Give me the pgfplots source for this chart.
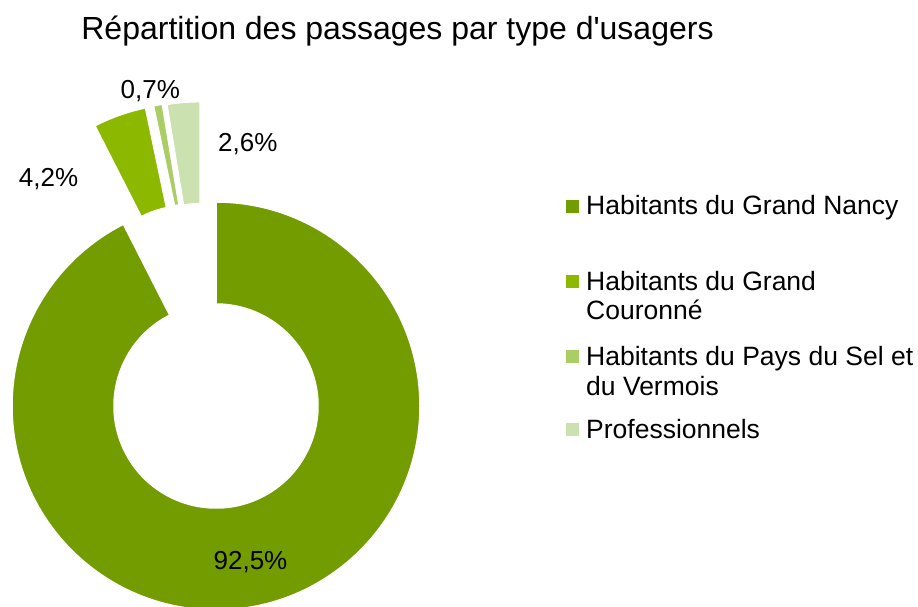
\documentclass[border=0pt]{standalone}
\usepackage{pgfplots}
\usepackage{pgfplotstable}
\pgfplotsset{compat=1.18}
\usepackage{fontspec}
\setmainfont{Liberation Sans}
\definecolor{cA}{RGB}{115,156,0}
\definecolor{cB}{RGB}{140,185,0}
\definecolor{cC}{RGB}{170,205,100}
\definecolor{cD}{RGB}{203,225,175}
\definecolor{txt}{RGB}{0,0,0}

% value in %, explosion offset (dx, dy) of each ring sector
\pgfplotstableread{
label value dx dy
GN 92.5 0 0
GC 4.2 -28.5 98.5
PS 0.7 -20.5 100.5
PR 2.6 -16 100.3
}\piedata

\newcommand\getval[3]{\pgfplotstablegetelem{#1}{#2}\of\piedata\global\let#3\pgfplotsretval}
\newcommand\ring[5]{%
  \fill[#5, draw=white, line width=1.5pt] (axis cs:#1,#2) ++(#3:204pt)
    arc[start angle=#3, end angle=#4, radius=204pt]
    -- ++(#4:-102pt)
    arc[start angle=#4, end angle=#3, radius=102pt] -- cycle;}

\begin{document}%
\getval{0}{value}\vA \getval{1}{value}\vB \getval{2}{value}\vC \getval{3}{value}\vD%
\getval{1}{dx}\xB \getval{2}{dx}\xC \getval{3}{dx}\xD%
\getval{1}{dy}\yB \getval{2}{dy}\yC \getval{3}{dy}\yD%
\pgfmathsetmacro\aA{90}%
\pgfmathsetmacro\aB{\aA-3.6*\vA}%
\pgfmathsetmacro\aC{\aB-3.6*\vB}%
\pgfmathsetmacro\aD{\aC-3.6*\vC}%
\pgfmathsetmacro\aE{\aD-3.6*\vD}%
\pgfmathsetmacro\cxB{216+\xB}\pgfmathsetmacro\cyB{200+\yB}%
\pgfmathsetmacro\cxC{216+\xC}\pgfmathsetmacro\cyC{200+\yC}%
\pgfmathsetmacro\cxD{216+\xD}\pgfmathsetmacro\cyD{200+\yD}%
\begin{tikzpicture}
\begin{axis}[
  at={(0,0)}, anchor=south west,
  x=1pt, y=1pt, xmin=0, xmax=918, ymin=0, ymax=606,
  scale only axis, hide axis, clip=true,
]
\ring{216}{200}{\aA}{\aB}{cA}
\ring{\cxB}{\cyB}{\aB}{\aC}{cB}
\ring{\cxC}{\cyC}{\aC}{\aD}{cC}
\ring{\cxD}{\cyD}{\aD}{\aE}{cD}

\begin{scope}[every node/.style={inner sep=0pt, text=txt, font=\fontsize{26}{30}\selectfont}]
\node[anchor=base] at (axis cs:250.5,36.7) {92,5\%};
\node[anchor=base] at (axis cs:48.5,419.3) {4,2\%};
\node[anchor=base] at (axis cs:150.3,507.7) {0,7\%};
\node[anchor=base] at (axis cs:247.8,454.3) {2,6\%};
\node[anchor=base, font=\fontsize{32}{36}\selectfont] at (axis cs:397.5,566) {Répartition des passages par type d\textquotesingle usagers};
% legend
\begin{scope}[every node/.append style={font=\fontsize{26.5}{30}\selectfont}]
\fill[cA] (axis cs:566,393) rectangle (axis cs:579,406);
\node[anchor=base west] at (axis cs:586,391) {Habitants du Grand Nancy};
\fill[cB] (axis cs:566,318) rectangle (axis cs:579,331);
\node[anchor=base west] at (axis cs:586,316) {Habitants du Grand};
\node[anchor=base west] at (axis cs:586,286.7) {Couronné};
\fill[cC] (axis cs:566,243) rectangle (axis cs:579,256);
\node[anchor=base west] at (axis cs:586,241) {Habitants du Pays du Sel et};
\node[anchor=base west] at (axis cs:586,211) {du Vermois};
\fill[cD] (axis cs:566,169.7) rectangle (axis cs:579,182.7);
\node[anchor=base west] at (axis cs:586,167.7) {Professionnels};
\end{scope}
\end{scope}
\end{axis}
\pgfresetboundingbox
\path[use as bounding box] (0,0) rectangle (918pt,606pt);
\end{tikzpicture}%
\end{document}
